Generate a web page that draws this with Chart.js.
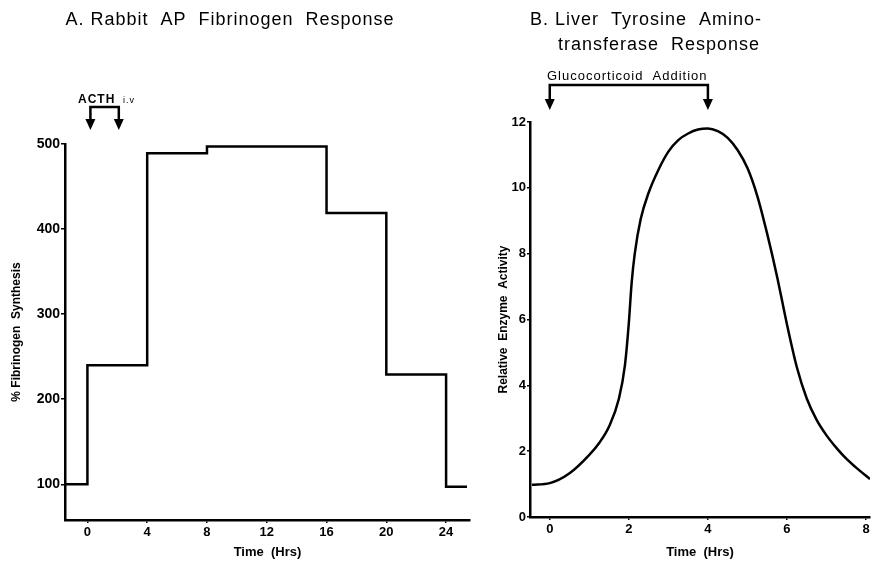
<!DOCTYPE html>
<html>
<head>
<meta charset="utf-8">
<script src="https://cdn.jsdelivr.net/npm/chart.js@4.4.0/dist/chart.umd.min.js"></script>
<style>
    html, body { margin: 0; padding: 0; background: #fff; }
    #wrap { position: relative; width: 874px; height: 562px; }
    #fibChart { position: absolute; left: 0; top: 0; }
    #tatChart { position: absolute; left: 480px; top: 0; }
</style>
</head>
<body>
<div id="wrap">
    <canvas id="fibChart" width="480" height="562"></canvas>
    <canvas id="tatChart" width="394" height="562"></canvas>
</div>
<script>
// Panel A - fibrinogen synthesis (each level starts at the given time)
const fibTimes = [-1.5, 0, 4, 8, 16, 20, 24, 25.4];
const fibValues = [100, 240, 489, 497, 419, 229, 97, 97];
const fibXTicks = [0, 4, 8, 12, 16, 20, 24];
const fibYTicks = [100, 200, 300, 400, 500];
const acthTimes = [0.2, 2.1];

// Panel B - tyrosine aminotransferase activity
const tatTimes = [-0.45, 0, 0.5, 1.0, 1.25, 1.5, 1.75, 1.9, 2.0, 2.07, 2.15, 2.3, 2.5, 2.75, 3.0, 3.25, 3.5, 3.75, 4.0,
    4.25, 4.5, 4.75, 5.0, 5.25, 5.5, 5.75, 6.0, 6.25, 6.5, 6.75, 7.0, 7.25, 7.5, 7.75, 8.1];
const tatValues = [0.98, 1.03, 1.33, 1.89, 2.25, 2.75, 3.6, 4.6, 5.9, 7.1, 8.0, 9.05, 9.85, 10.55, 11.1, 11.45, 11.65, 11.77, 11.8,
    11.72, 11.52, 11.15, 10.6, 9.75, 8.6, 7.3, 5.85, 4.55, 3.6, 2.95, 2.48, 2.1, 1.77, 1.5, 1.15];
const tatXTicks = [0, 2, 4, 6, 8];
const tatYTicks = [0, 2, 4, 6, 8, 10, 12];
const glucoTimes = [0, 4];

Chart.defaults.font.family = "'Liberation Sans', Arial, sans-serif";
Chart.defaults.color = '#000';

// titles, bracket arrows and their labels
const annotate = {
    id: 'annotate',
    afterDraw(chart, args, opts) {
        const ctx = chart.ctx;
        ctx.save();
        ctx.fillStyle = '#000';
        ctx.strokeStyle = '#000';
        ctx.textBaseline = 'alphabetic';
        ctx.textAlign = 'center';
        ctx.font = "18px 'Liberation Sans', Arial, sans-serif";
        ctx.letterSpacing = '1px';
        opts.title.forEach(line => ctx.fillText(line.text, line.x, line.y));

        const xs = opts.arrowTimes.map(t => chart.scales.x.getPixelForValue(t));
        ctx.lineWidth = 2.5;
        ctx.beginPath();
        ctx.moveTo(xs[0], opts.tipY - 6);
        ctx.lineTo(xs[0], opts.barY);
        ctx.lineTo(xs[1], opts.barY);
        ctx.lineTo(xs[1], opts.tipY - 6);
        ctx.stroke();
        xs.forEach(x => {
            ctx.beginPath();
            ctx.moveTo(x - 5, opts.tipY - 11);
            ctx.lineTo(x + 5, opts.tipY - 11);
            ctx.lineTo(x, opts.tipY);
            ctx.closePath();
            ctx.fill();
        });

        ctx.textAlign = 'left';
        opts.labels.forEach(l => {
            ctx.font = l.font;
            ctx.letterSpacing = l.spacing;
            ctx.fillText(l.text, l.x, l.y);
        });
        ctx.restore();
    }
};

function axisGrid(len) {
    return { display: true, drawOnChartArea: false, drawTicks: true, tickLength: len, color: '#000', lineWidth: 1.5 };
}

function initFibrinogenChart() {
    const ctx = document.getElementById('fibChart');
    new Chart(ctx.getContext('2d'), {
        type: 'line',
        data: {
            datasets: [{
                data: fibTimes.map((t, i) => ({ x: t, y: fibValues[i] })),
                stepped: 'before',
                borderColor: '#000',
                borderWidth: 2.5,
                pointRadius: 0,
                fill: false
            }]
        },
        options: {
            responsive: false,
            animation: false,
            devicePixelRatio: 1,
            layout: { padding: { left: 0, right: 10, top: 144, bottom: 0 } },
            plugins: {
                legend: { display: false },
                tooltip: { enabled: false },
                annotate: {
                    title: [{ text: 'A. Rabbit  AP  Fibrinogen  Response', x: 230, y: 25 }],
                    arrowTimes: acthTimes,
                    barY: 107,
                    tipY: 130,
                    labels: [
                        { text: 'ACTH', x: 78, y: 103, spacing: '1px', font: "bold 12px 'Liberation Sans', Arial, sans-serif" },
                        { text: 'i.v', x: 123, y: 103, spacing: '1px', font: "9px 'Liberation Sans', Arial, sans-serif" }
                    ]
                }
            },
            scales: {
                x: {
                    type: 'linear',
                    min: -1.5,
                    max: 25.6,
                    afterFit(scale) { scale.height = 42; },
                    afterBuildTicks(scale) { scale.ticks = fibXTicks.map(v => ({ value: v })); },
                    border: { color: '#000', width: 2.5 },
                    grid: axisGrid(3),
                    ticks: { font: { size: 13, weight: 'bold' }, padding: 2, maxRotation: 0 },
                    title: { display: true, text: 'Time  (Hrs)', font: { size: 13, weight: 'bold' }, padding: { top: 2, bottom: 2 } }
                },
                y: {
                    min: 58,
                    max: 500,
                    afterFit(scale) { scale.width = 65; },
                    afterBuildTicks(scale) { scale.ticks = fibYTicks.map(v => ({ value: v })); },
                    border: { color: '#000', width: 2.5 },
                    grid: axisGrid(4),
                    ticks: { font: { size: 14, weight: 'bold' }, padding: 1 },
                    title: { display: true, text: '% Fibrinogen  Synthesis', font: { size: 12, weight: 'bold' }, padding: { top: 9, bottom: 0 } }
                }
            }
        },
        plugins: [annotate]
    });
}

function initTyrosineChart() {
    const ctx = document.getElementById('tatChart');
    new Chart(ctx.getContext('2d'), {
        type: 'line',
        data: {
            datasets: [{
                data: tatTimes.map((t, i) => ({ x: t, y: tatValues[i] })),
                cubicInterpolationMode: 'monotone',
                borderColor: '#000',
                borderWidth: 2.5,
                pointRadius: 0,
                fill: false
            }]
        },
        options: {
            responsive: false,
            animation: false,
            devicePixelRatio: 1,
            layout: { padding: { left: 0, right: 4, top: 122, bottom: 0 } },
            plugins: {
                legend: { display: false },
                tooltip: { enabled: false },
                annotate: {
                    title: [
                        { text: 'B. Liver  Tyrosine  Amino-', x: 166, y: 25 },
                        { text: 'transferase  Response', x: 179, y: 50 }
                    ],
                    arrowTimes: glucoTimes,
                    barY: 85,
                    tipY: 110,
                    labels: [
                        { text: 'Glucocorticoid  Addition', x: 67, y: 80, spacing: '1px', font: "13px 'Liberation Sans', Arial, sans-serif" }
                    ]
                }
            },
            scales: {
                x: {
                    type: 'linear',
                    min: -0.5,
                    max: 8.1,
                    afterFit(scale) { scale.height = 45; },
                    afterBuildTicks(scale) { scale.ticks = tatXTicks.map(v => ({ value: v })); },
                    border: { color: '#000', width: 2.5 },
                    grid: axisGrid(3),
                    ticks: { font: { size: 13, weight: 'bold' }, padding: 2, maxRotation: 0 },
                    title: { display: true, text: 'Time  (Hrs)', font: { size: 13, weight: 'bold' }, padding: { top: 4, bottom: 2 } }
                },
                y: {
                    min: 0,
                    max: 12,
                    afterFit(scale) { scale.width = 50; },
                    afterBuildTicks(scale) { scale.ticks = tatYTicks.map(v => ({ value: v })); },
                    border: { color: '#000', width: 2.5 },
                    grid: axisGrid(3),
                    ticks: { font: { size: 13, weight: 'bold' }, padding: 1 },
                    title: { display: true, text: 'Relative  Enzyme  Activity', font: { size: 12, weight: 'bold' }, padding: { top: 16, bottom: 0 } }
                }
            }
        },
        plugins: [annotate]
    });
}

initFibrinogenChart();
initTyrosineChart();
</script>
</body>
</html>
